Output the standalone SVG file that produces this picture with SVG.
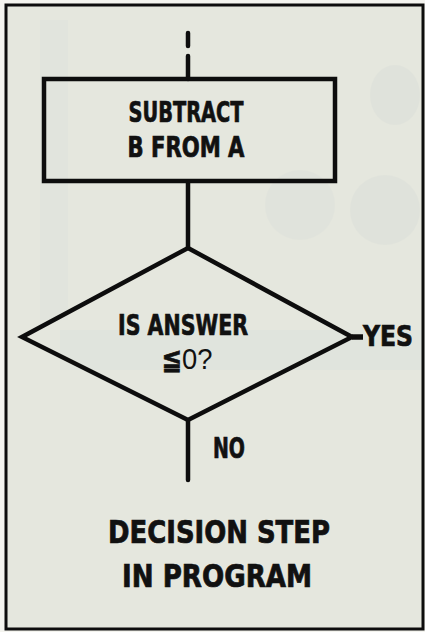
<svg xmlns="http://www.w3.org/2000/svg" width="425" height="632" viewBox="0 0 425 632">
  <style>
    .ln { stroke: #0d0d0d; stroke-width: 4.5; fill: none; stroke-linecap: round; stroke-linejoin: miter; }
    .shape { stroke: #0d0d0d; stroke-width: 4.5; fill: none; stroke-linejoin: miter; }
    .t { font-family: "Liberation Sans Narrow", "DejaVu Sans Condensed", "Liberation Sans", Arial, sans-serif; font-weight: bold; fill: #111; stroke: #111; stroke-width: 0.7; }
  </style>
  <rect x="0" y="0" width="425" height="632" fill="#f4f4ef"/>
  <rect x="6" y="5" width="418" height="625" fill="#e5e7de"/>
  <!-- faint show-through from the reverse side -->
  <g opacity="0.18">
    <rect x="40" y="20" width="28" height="300" fill="#d2dad9"/>
    <rect x="60" y="330" width="364" height="40" fill="#cfd8da"/>
    <ellipse cx="395" cy="95" rx="25" ry="30" fill="#c9d1d1"/>
    <ellipse cx="385" cy="210" rx="35" ry="35" fill="#c9d1d1"/>
    <ellipse cx="300" cy="205" rx="35" ry="35" fill="#cfd6d6"/>
  </g>
  <rect x="6" y="5" width="417" height="624" fill="none" stroke="#0d0d0d" stroke-width="3"/>

  <g id="connectors">
    <line class="ln" x1="188" y1="33" x2="188" y2="46"/>
    <line class="ln" x1="188" y1="56" x2="188" y2="79"/>
    <line class="ln" x1="188" y1="182" x2="188" y2="248"/>
    <line class="ln" x1="188" y1="420" x2="188" y2="480"/>
    <line x1="352" y1="337" x2="363" y2="337" stroke="#0d0d0d" stroke-width="5.5"/>
  </g>

  <g id="subtract">
    <rect class="shape" x="44" y="79" width="291" height="102"/>
    <text class="t" x="186" y="122" font-size="28" text-anchor="middle" textLength="115" lengthAdjust="spacingAndGlyphs">SUBTRACT</text>
    <text class="t" x="186" y="157" font-size="28" text-anchor="middle" textLength="117" lengthAdjust="spacingAndGlyphs">B FROM A</text>
  </g>

  <g id="decision">
    <polygon class="shape" points="188,248 352,337 188,420 22,337"/>
    <text class="t" x="183" y="335" font-size="28" text-anchor="middle" textLength="130" lengthAdjust="spacingAndGlyphs">IS ANSWER</text>
    <text x="187" y="369" font-size="30" text-anchor="middle" font-family="'DejaVu Sans Condensed', 'Liberation Sans', sans-serif" fill="#111" textLength="51" lengthAdjust="spacingAndGlyphs"><tspan font-weight="bold" stroke="#111" stroke-width="0.6">≦</tspan><tspan font-family="'Liberation Sans', sans-serif">0?</tspan></text>
  </g>

  <g id="yes">
    <text class="t" x="388" y="346" font-size="28" text-anchor="middle" textLength="50" lengthAdjust="spacingAndGlyphs">YES</text>
  </g>

  <g id="no">
    <text class="t" x="229" y="458" font-size="28" text-anchor="middle" textLength="32" lengthAdjust="spacingAndGlyphs">NO</text>
  </g>

  <g id="title">
    <text class="t" x="219" y="543" font-size="32" text-anchor="middle" textLength="222" lengthAdjust="spacingAndGlyphs">DECISION STEP</text>
    <text class="t" x="217" y="587" font-size="32" text-anchor="middle" textLength="190" lengthAdjust="spacingAndGlyphs">IN PROGRAM</text>
  </g>
</svg>
